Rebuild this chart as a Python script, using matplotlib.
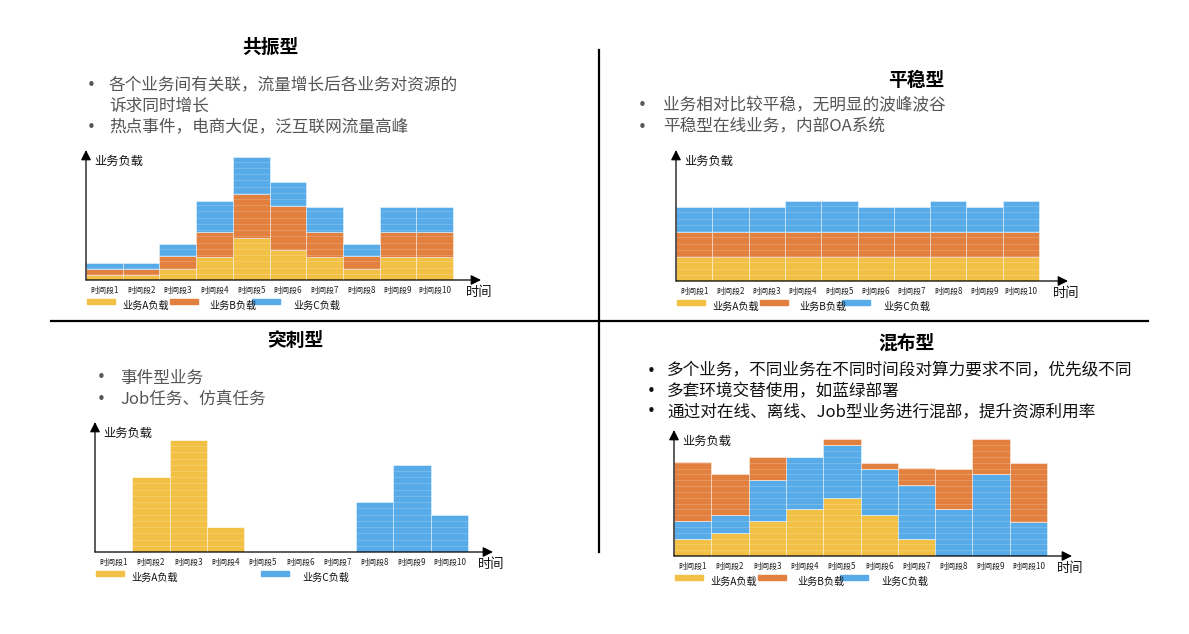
import numpy as np
import matplotlib
matplotlib.use("Agg")
import matplotlib.pyplot as plt
from matplotlib.patches import Rectangle
from matplotlib.lines import Line2D

plt.rcParams['font.family'] = ['Noto Sans CJK SC', 'DejaVu Sans']

# ---------------- data ----------------
periods = ["时间段1", "时间段2", "时间段3", "时间段4", "时间段5",
           "时间段6", "时间段7", "时间段8", "时间段9", "时间段10"]
series_names = {"A": "业务A负载", "B": "业务B负载", "C": "业务C负载"}

# 共振型
res_A = [0.8, 0.8, 1.8, 3.7, 6.8, 4.8, 3.7, 1.8, 3.7, 3.7]
res_B = [0.9, 0.9, 2.0, 4.0, 7.0, 7.0, 4.0, 2.0, 4.0, 4.0]
res_C = [1.0, 1.0, 2.0, 5.0, 6.0, 4.0, 4.0, 2.0, 4.0, 4.0]
# 平稳型
flat_A = [3.85] * 10
flat_B = [4.0] * 10
flat_C = [4.0, 4.0, 4.0, 5.0, 5.0, 4.0, 4.0, 5.0, 4.0, 5.0]
# 突刺型
spike_A = [0, 12, 18, 4, 0, 0, 0, 0, 0, 0]
spike_C = [0, 0, 0, 0, 0, 0, 0, 8, 14, 6]
# 混布型 (stack order A, C, B)
mix_A = [3, 4, 6, 8, 10, 7, 3, 0, 0, 0]
mix_C = [3, 3, 7, 9, 9.1, 8, 9.1, 8, 14, 5.9]
mix_B = [10.1, 7, 4, 0, 0.9, 1, 3, 7, 6, 10.1]

titles = ["共振型", "平稳型", "突刺型", "混布型"]
bullets_res = ["各个业务间有关联，流量增长后各业务对资源的", "诉求同时增长", "热点事件，电商大促，泛互联网流量高峰"]
bullets_flat = ["业务相对比较平稳，无明显的波峰波谷", "平稳型在线业务，内部OA系统"]
bullets_spike = ["事件型业务", "Job任务、仿真任务"]
bullets_mix = ["多个业务，不同业务在不同时间段对算力要求不同，优先级不同",
               "多套环境交替使用，如蓝绿部署",
               "通过对在线、离线、Job型业务进行混部，提升资源利用率"]

colors = {"A": "#F2C044", "B": "#E2803F", "C": "#56ABE8"}

# ---------------- layout ----------------
W, H = 1189, 634
fig = plt.figure(figsize=(W / 100, H / 100), dpi=100)


def fx(x):
    return x / W


def fy(y):
    return 1 - y / H


def draw_panel(rect, bar_px, unit_px, stacks, legend_slots):
    left, top, right, bottom = rect
    ax = fig.add_axes([fx(left), fy(bottom), (right - left) / W, (bottom - top) / H])
    ax.set_xlim(0, (right - left) / bar_px)
    ax.set_ylim(0, (bottom - top) / unit_px)
    for s in ax.spines.values():
        s.set_visible(False)
    ax.set_yticks([])
    x = np.arange(len(periods)) + 0.5
    bottoms = np.zeros(len(periods))
    for key, vals in stacks:
        vals = np.asarray(vals, dtype=float)
        ax.bar(x, vals, width=1.0, bottom=bottoms, color=colors[key],
               edgecolor=(1, 1, 1, 0.6), linewidth=0.5, zorder=2)
        bottoms = bottoms + vals
    # faint horizontal stripes inside bars
    for i, tot in enumerate(bottoms):
        for k in np.arange(1, tot, 1.0):
            ax.hlines(k, i, i + 1, color="white", lw=0.5, alpha=0.25, zorder=3)
    ax.set_xticks(x, periods, fontsize=5.8, color="#222222")
    ax.tick_params(axis="x", length=0, pad=4.5)
    ap = dict(arrowstyle="-|>,head_length=0.6,head_width=0.3", lw=0.9,
              color="black", shrinkA=0, shrinkB=0)
    ax.annotate("", xy=(1, 0), xytext=(0, 0), xycoords="axes fraction",
                arrowprops=ap, annotation_clip=False, zorder=5)
    ax.annotate("", xy=(0, 1), xytext=(0, 0), xycoords="axes fraction",
                arrowprops=ap, annotation_clip=False, zorder=5)
    fig.text(fx(left + 8), fy(top + 11), "业务负载", fontsize=8.8,
             ha="left", va="center", color="#111111")
    fig.text(fx(right - 15), fy(bottom + 12.5), "时间", fontsize=9.5,
             ha="left", va="center", color="#111111")
    # legend
    patch_off = [1, 84, 166]
    text_off = [36, 123, 207]
    for slot, key in legend_slots:
        fig.patches.append(Rectangle((fx(left + patch_off[slot]), fy(bottom + 23.5)),
                                     28 / W, 5 / H, transform=fig.transFigure,
                                     color=colors[key], figure=fig))
        fig.text(fx(left + text_off[slot]), fy(bottom + 26), series_names[key],
                 fontsize=7.3, ha="left", va="center", color="#111111")
    return ax


draw_panel((86, 150, 481, 280), 36.7, 6.23,
           [("A", res_A), ("B", res_B), ("C", res_C)],
           [(0, "A"), (1, "B"), (2, "C")])
draw_panel((676, 150, 1068, 281), 36.3, 6.23,
           [("A", flat_A), ("B", flat_B), ("C", flat_C)],
           [(0, "A"), (1, "B"), (2, "C")])
draw_panel((95, 422, 493, 552), 37.3, 6.23,
           [("A", spike_A), ("C", spike_C)],
           [(0, "A"), (2, "C")])
draw_panel((674, 430, 1072, 556), 37.3, 5.83,
           [("A", mix_A), ("C", mix_C), ("B", mix_B)],
           [(0, "A"), (1, "B"), (2, "C")])

# titles
for t, (cx, cy) in zip(titles, [(270, 47), (916, 81), (295, 340), (906, 343)]):
    fig.text(fx(cx), fy(cy), t, fontsize=13.5, fontweight="bold",
             ha="center", va="center", color="black")


def bullets(lines, bx, tx, ys, color, size, cont=()):
    for i, (line, y) in enumerate(zip(lines, ys)):
        if i not in cont:
            fig.text(fx(bx), fy(y), "•", fontsize=size * 0.9, ha="center",
                     va="center", color=color, family="DejaVu Sans")
        fig.text(fx(tx), fy(y), line, fontsize=size, ha="left", va="center",
                 color=color)


bullets(bullets_res, 91, 109, [86, 106.5, 127], "#555555", 12, cont=(1,))
bullets(bullets_flat, 642, 663, [106, 127], "#555555", 12)
bullets(bullets_spike, 101, 120, [378, 399], "#555555", 12)
bullets(bullets_mix, 651, 667, [371, 392, 412], "#111111", 12)

# dividers
fig.add_artist(Line2D([fx(51), fx(1148)], [fy(320.5), fy(320.5)], color="black", lw=1.6))
fig.add_artist(Line2D([fx(599), fx(599)], [fy(50), fy(552)], color="black", lw=1.6))

fig.savefig("out.png", dpi=100)
